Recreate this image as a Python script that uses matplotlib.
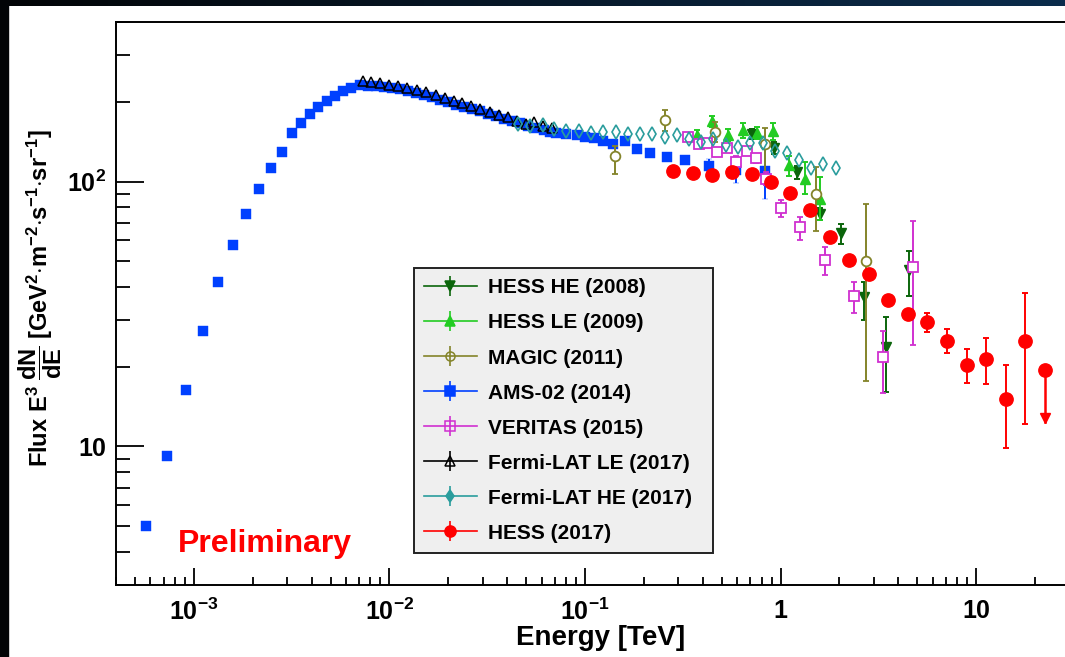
import numpy as np
import matplotlib
matplotlib.use('Agg')
import matplotlib.pyplot as plt
from matplotlib.lines import Line2D
from matplotlib.legend_handler import HandlerTuple
from matplotlib.patches import Rectangle
from matplotlib.colors import LinearSegmentedColormap
import matplotlib.transforms as mtransforms
from matplotlib.ticker import FixedLocator, FixedFormatter, NullFormatter

plt.rcParams['font.family'] = ['Liberation Sans', 'DejaVu Sans']
plt.rcParams['font.weight'] = 'bold'
plt.rcParams['mathtext.fontset'] = 'custom'
plt.rcParams['mathtext.rm'] = 'Liberation Sans:bold'
plt.rcParams['mathtext.it'] = 'Liberation Sans:bold'
plt.rcParams['mathtext.bf'] = 'Liberation Sans:bold'
plt.rcParams['mathtext.sf'] = 'Liberation Sans:bold'

# ---------------- data (Energy in TeV, flux E^3 dN/dE) ----------------
hess_he_E = [0.713, 0.930, 1.216, 1.589, 2.042, 2.667, 3.456, 4.531]
hess_he_F = [151.2, 134.3, 108.4, 75.6, 64.1, 36.7, 23.8, 46.2]
hess_he_lo = [6, 7, 6, 3.8, 6.2, 6.7, 7.7, 9.1]
hess_he_hi = [6, 7, 6, 4.0, 4.9, 5.1, 7.1, 8.3]

hess_le_E = [0.3718, 0.4478, 0.5394, 0.6393, 0.7607, 0.9133, 1.103, 1.327, 1.594]
hess_le_F = [150.3, 169.3, 150.3, 156.0, 152.5, 154.9, 115.7, 101.9, 86.1]
hess_le_lo = [6.6, 8.1, 7.9, 9.6, 8.0, 11.0, 10.7, 12.0, 14.8]
hess_le_hi = [6.6, 8.1, 7.9, 9.6, 8.0, 11.0, 9.5, 16.3, 17.7]

magic_E = [0.1420, 0.2569, 0.4612, 0.8312, 1.515, 2.731]
magic_F = [125.3, 170.7, 153.3, 139.0, 89.7, 50.0]
magic_lo = [18.1, 15.1, 11.8, 33.7, 24.7, 32.3]
magic_hi = [11.3, 14.8, 14.9, 20.7, 23.9, 32.4]

ams_E = [5.71e-4, 7.31e-4, 9.12e-4, 1.114e-3, 1.334e-3, 1.585e-3, 1.857e-3,
         2.163e-3, 2.479e-3, 2.823e-3, 3.177e-3, 3.548e-3, 3.926e-3, 4.335e-3,
         4.779e-3, 5.25e-3, 5.79e-3, 6.39e-3, 7.05e-3, 7.75e-3, 8.51e-3,
         9.35e-3, 1.027e-2, 1.129e-2, 1.241e-2, 1.363e-2, 1.498e-2, 1.646e-2,
         1.809e-2, 1.987e-2, 2.184e-2, 2.399e-2, 2.636e-2, 2.896e-2, 3.183e-2,
         3.497e-2, 3.843e-2, 4.222e-2, 4.639e-2, 5.097e-2, 5.60e-2, 6.155e-2,
         6.61e-2, 7.147e-2, 8.04e-2, 9.05e-2, 9.98e-2, 0.1109, 0.1243, 0.1398,
         0.1592, 0.1834, 0.2153, 0.2621, 0.3258, 0.4313, 0.5907, 0.8350]
ams_F = [5.0, 9.23, 16.3, 27.3, 41.8, 57.4, 75.1, 93.9, 112.6, 129.4, 152.9,
         166.6, 179.8, 191, 202, 211, 219, 225, 231.8, 229.8, 228.8, 227.8,
         225.9, 222.9, 220.0, 216.3, 212.6, 208.0, 203.5, 199.2, 194.9, 191.6,
         188.3, 184.3, 180.3, 176.5, 172.6, 168.9, 166.0, 162.5, 159.7, 156.9,
         154.2, 152.0, 151.2, 149.9, 146.8, 145.4, 141.9, 138.7, 142.3, 132.8,
         128.2, 123.5, 120.8, 114.4, 111.0, 110.0]
ams_lo = [0] * 55 + [5.0, 12.0, 24.0]
ams_hi = [0] * 55 + [7.0, 12.0, 33.0]

veritas_E = [0.3356, 0.3821, 0.4198, 0.4706, 0.5294, 0.5927, 0.6700, 0.7517,
             0.8389, 1.000, 1.255, 1.679, 2.371, 3.348, 4.767]
veritas_F = [146.8, 139.0, 140.0, 128.9, 134.3, 118.2, 130.5, 122.3, 102.1,
             79.4, 67.1, 50.7, 36.9, 21.7, 47.6]
veritas_lo = [4, 4, 4, 4, 4, 7, 5, 5, 5.5, 6.2, 7.1, 6.4, 5.0, 5.8, 23.4]
veritas_hi = [4, 4, 4, 4, 4, 7, 5, 5, 6.3, 5.6, 6.4, 6.0, 4.9, 5.5, 23.4]

fermi_le_E = [7.33e-3, 8.09e-3, 8.92e-3, 9.95e-3, 1.107e-2, 1.23e-2, 1.384e-2,
              1.545e-2, 1.725e-2, 1.918e-2, 2.13e-2, 2.36e-2, 2.62e-2, 2.92e-2,
              3.26e-2, 3.62e-2, 4.04e-2, 4.47e-2, 5.02e-2, 5.47e-2, 6.11e-2, 6.75e-2]
fermi_le_F = [240.0, 236.5, 235.3, 231.8, 228.4, 225.3, 221.4, 216.8, 212.0,
              205.9, 201.3, 197.1, 193.2, 187.8, 182.3, 178.7, 174.6, 169.7,
              164.9, 167.2, 162.5, 158.7]

fermi_he_E = [0.04548, 0.05221, 0.06063, 0.06925, 0.0804, 0.0928, 0.1073,
              0.1240, 0.1432, 0.1655, 0.1907, 0.2204, 0.2554, 0.2938, 0.3404,
              0.3930, 0.4520, 0.5238, 0.6029, 0.6966, 0.8090, 0.9307, 1.077,
              1.243, 1.434, 1.652, 1.913]
fermi_he_F = [164.9, 162.5, 163.5, 157.6, 155.2, 155.2, 152.9, 153.3, 153.8,
              151.2, 150.7, 150.7, 146.7, 150.1, 144.8, 140.6, 144.2, 137.5,
              135.2, 140.2, 139.3, 130.8, 127.8, 120.4, 112.7, 116.9, 112.4]

hess17_E = [0.282, 0.355, 0.448, 0.563, 0.711, 0.892, 1.122, 1.415, 1.787,
            2.230, 2.819, 3.551, 4.478, 5.634, 7.088, 8.94, 11.22, 14.15, 17.81]
hess17_F = [110.0, 107.5, 106.1, 108.4, 106.7, 99.4, 90.4, 78.3, 61.5, 50.6,
            44.7, 35.6, 31.5, 29.5, 25.1, 20.3, 21.4, 15.1, 25.1]
hess17_lo = [0, 0, 0, 0, 0, 0, 0, 0, 0, 0, 0, 1.0, 1.5, 2.4, 2.5, 2.9, 4.2, 5.2, 12.9]
hess17_hi = [0, 0, 0, 0, 0, 0, 0, 0, 0, 0, 0, 1.0, 1.5, 2.3, 2.6, 3.0, 4.2, 5.2, 12.9]
hess17_ul_E = 22.43
hess17_ul_F = 19.4
hess17_ul_end = 12.4

labels = ['HESS HE (2008)', 'HESS LE (2009)', 'MAGIC (2011)', 'AMS-02 (2014)',
          'VERITAS (2015)', 'Fermi-LAT LE (2017)', 'Fermi-LAT HE (2017)', 'HESS (2017)']

x_ticks = [1e-3, 1e-2, 1e-1, 1, 10]
x_ticklabels = ['$10^{-3}$', '$10^{-2}$', '$10^{-1}$', '1', '10']
y_ticks = [10, 100]
y_ticklabels = ['10', '$10^{2}$']

# ---------------- colours / styles ----------------
c_hess_he = '#0b650b'
c_hess_le = '#22cc22'
c_magic = '#84842a'
c_ams = '#0040ff'
c_veritas = '#d030d0'
c_fermi_le = '#000000'
c_fermi_he = '#2a9d9d'
c_hess17 = '#ff0000'

W, H = 1065, 657
fig = plt.figure(figsize=(W / 100, H / 100), dpi=100, facecolor='white')
ax_l, ax_r, ax_t, ax_b = 116, 1085, 22, 585
ax = fig.add_axes([ax_l / W, 1 - ax_b / H, (ax_r - ax_l) / W, (ax_b - ax_t) / H])
ax.set_xscale('log')
ax.set_yscale('log')
ax.set_xlim(4e-4, 36)
ax.set_ylim(3, 400)

ekw = dict(linestyle='none', elinewidth=1.4, capsize=2.0, capthick=1.4)

ax.errorbar(hess_he_E, hess_he_F, yerr=[hess_he_lo, hess_he_hi], fmt='v',
            color=c_hess_he, ms=6.8, mec=c_hess_he, zorder=3, **ekw)
ax.errorbar(hess_le_E, hess_le_F, yerr=[hess_le_lo, hess_le_hi], fmt='^',
            color=c_hess_le, ms=6.8, mec=c_hess_le, zorder=3.1, **ekw)
ax.errorbar(magic_E, magic_F, yerr=[magic_lo, magic_hi], fmt='o',
            color=c_magic, ms=7.0, mfc='white', mec=c_magic, mew=1.3, zorder=3.2, **ekw)
ax.errorbar(ams_E, ams_F, yerr=[ams_lo, ams_hi], fmt='s',
            color=c_ams, ms=6.7, mec=c_ams, mew=0.3, zorder=2.9, **ekw)
ax.errorbar(veritas_E, veritas_F, yerr=[veritas_lo, veritas_hi], fmt='s',
            color=c_veritas, ms=7.0, mfc='white', mec=c_veritas, mew=1.3, zorder=3.3, **ekw)
ax.plot(fermi_le_E, fermi_le_F, linestyle='none', marker='^', ms=6.7,
        mfc='none', mec=c_fermi_le, mew=1.1, zorder=3.4)
ax.plot(fermi_he_E, fermi_he_F, linestyle='none', marker='d', ms=6.8,
        mfc='none', mec=c_fermi_he, mew=1.2, zorder=3.5)
ax.errorbar(hess17_E, hess17_F, yerr=[hess17_lo, hess17_hi], fmt='o',
            color=c_hess17, ms=9.6, mec=c_hess17, zorder=3.6, **ekw)
# upper limit
ax.plot(hess17_ul_E, hess17_ul_F, marker='o', ms=9.6, color=c_hess17, zorder=3.6)
ax.plot([hess17_ul_E, hess17_ul_E], [hess17_ul_F, hess17_ul_end], color=c_hess17,
        lw=1.8, zorder=3.6)
shift = mtransforms.offset_copy(ax.transData, fig=fig, x=0, y=4, units='dots')
ax.plot(hess17_ul_E, hess17_ul_end, marker='v', ms=7.5, color=c_hess17,
        transform=shift, zorder=3.6)

# ---------------- axes styling ----------------
for s in ax.spines.values():
    s.set_linewidth(1.4)
ax.xaxis.set_major_locator(FixedLocator(x_ticks))
ax.xaxis.set_major_formatter(FixedFormatter(x_ticklabels))
ax.xaxis.set_minor_formatter(NullFormatter())
ax.yaxis.set_major_locator(FixedLocator(y_ticks))
ax.yaxis.set_major_formatter(FixedFormatter(y_ticklabels))
ax.yaxis.set_minor_formatter(NullFormatter())
ax.tick_params(axis='both', which='both', direction='in', top=False, right=False,
               width=1.3, labelsize=18)
ax.tick_params(axis='x', which='major', length=12.2, pad=10)
ax.tick_params(axis='x', which='minor', length=6.1)
ax.tick_params(axis='y', which='major', length=20, pad=7)
ax.tick_params(axis='y', which='minor', length=10)

ax.set_xlabel('Energy [TeV]', fontsize=20, fontweight='bold', va='center')
ax.xaxis.set_label_coords(0.5, -(638 - ax_b) / (ax_b - ax_t))
ax.set_ylabel(r'Flux E$^{3}$ $\dfrac{dN}{dE}$ [GeV$^{2}$$\cdot$m$^{-2}$$\cdot$s$^{-1}$$\cdot$sr$^{-1}$]',
              fontsize=17, fontweight='bold', va='center')
ax.yaxis.set_label_coords(-(ax_l - 40) / (ax_r - ax_l), (ax_b - 298) / (ax_b - ax_t))

fig.text(178 / W, 1 - 552 / H, 'Preliminary', color='#ff0000', fontsize=23,
         fontweight='bold', ha='left', va='baseline')

# ---------------- legend ----------------
def mk_handle(color, marker, ms, mfc):
    v = Line2D([], [], linestyle='none', marker='|', ms=14, mew=1.2, color=color)
    h = Line2D([], [], color=color, lw=1.2, marker=marker, ms=ms, mfc=mfc,
               mec=color, mew=1.1)
    return (v, h)

handles = [
    mk_handle(c_hess_he, 'v', 6.5, c_hess_he),
    mk_handle(c_hess_le, '^', 6.5, c_hess_le),
    mk_handle(c_magic, 'o', 6.5, 'none'),
    mk_handle(c_ams, 's', 6.5, c_ams),
    mk_handle(c_veritas, 's', 6.5, 'none'),
    mk_handle(c_fermi_le, '^', 6.5, 'none'),
    mk_handle(c_fermi_he, 'd', 6.0, c_fermi_he),
    mk_handle(c_hess17, 'o', 8.0, c_hess17),
]
leg_l, leg_t, leg_r = 414, 268, 713
leg = ax.legend(handles, labels, handler_map={tuple: HandlerTuple(ndivide=1)},
                loc='upper left', mode='expand',
                bbox_to_anchor=(leg_l / W, 1 - leg_t / H, (leg_r - leg_l) / W, 0.0),
                bbox_transform=fig.transFigure, borderaxespad=0,
                prop={'family': 'Liberation Sans', 'weight': 'bold', 'size': 15},
                numpoints=1, handlelength=2.5, handletextpad=0.55, labelspacing=0.77,
                borderpad=0.5, fancybox=False, framealpha=1, facecolor='#efefef',
                edgecolor='#222222')
leg.get_frame().set_linewidth(1.4)
leg.set_zorder(5)

# ---------------- dark border bands ----------------
band = fig.add_axes([0, 1 - 6 / H, 1, 6 / H])
band.imshow(np.linspace(0, 1, 256)[None, :], aspect='auto',
            cmap=LinearSegmentedColormap.from_list('bd', ['#020406', '#0b2c4c']),
            extent=[0, 1, 0, 1])
band.axis('off')
fig.patches.append(Rectangle((0, 0), 8 / W, 1, transform=fig.transFigure,
                             color='#020406', zorder=10))

fig.savefig('out.png', dpi=100, facecolor='white')
